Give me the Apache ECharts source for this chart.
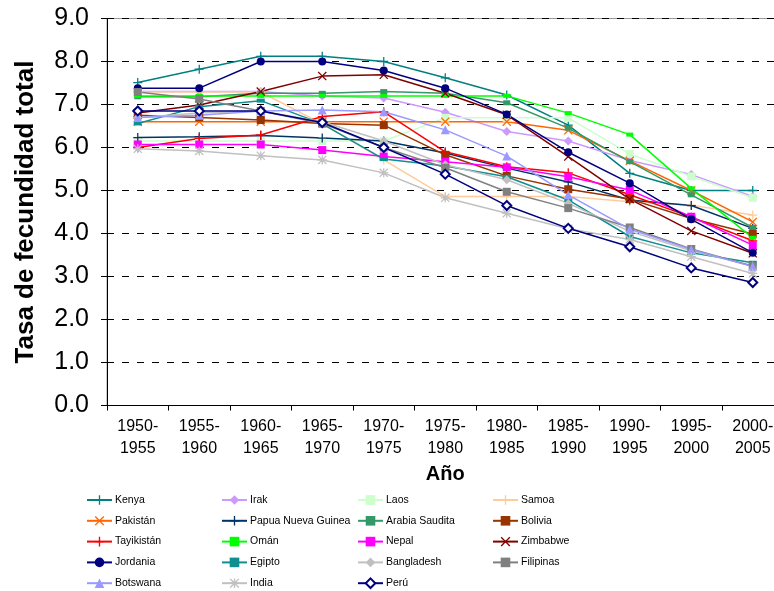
<!DOCTYPE html>
<html>
<head>
<meta charset="utf-8">
<script src="https://cdn.jsdelivr.net/npm/echarts@6/dist/echarts.min.js"></script>
<style>
  html, body { margin: 0; padding: 0; background: #fff; }
  #chart { width: 774px; height: 591px; }
</style>
</head>
<body>
<div id="chart"></div>
<script>
// Periods (five-year intervals)
const periods = ['1950-\n1955', '1955-\n1960', '1960-\n1965', '1965-\n1970', '1970-\n1975',
  '1975-\n1980', '1980-\n1985', '1985-\n1990', '1990-\n1995', '1995-\n2000', '2000-\n2005'];

// Total fertility rate per country
const kenya      = [7.51, 7.82, 8.12, 8.12, 8.00, 7.62, 7.22, 6.52, 5.40, 5.00, 5.00];
const irak       = [7.30, 7.30, 7.30, 7.20, 7.15, 6.82, 6.37, 6.15, 5.70, 5.37, 4.86];
const laos       = [6.15, 6.15, 6.15, 6.15, 6.15, 6.69, 6.69, 6.69, 5.85, 5.33, 4.83];
const samoa      = [7.29, 7.29, 7.29, 6.55, 5.71, 4.86, 4.86, 4.86, 4.74, 4.66, 4.43];
const pakistan   = [6.60, 6.60, 6.60, 6.60, 6.60, 6.60, 6.60, 6.40, 5.69, 5.00, 4.27];
const papua      = [6.23, 6.25, 6.28, 6.22, 6.15, 5.87, 5.52, 5.20, 4.78, 4.65, 4.12];
const arabia     = [7.18, 7.18, 7.26, 7.26, 7.30, 7.26, 7.04, 6.45, 5.67, 4.90, 4.14];
const bolivia    = [6.75, 6.70, 6.64, 6.56, 6.52, 5.83, 5.34, 5.03, 4.80, 4.35, 3.99];
const tayikistan = [6.00, 6.21, 6.29, 6.72, 6.83, 5.90, 5.55, 5.41, 4.90, 4.38, 3.83];
const oman       = [7.20, 7.20, 7.20, 7.20, 7.20, 7.20, 7.20, 6.80, 6.30, 5.05, 3.90];
const nepal      = [6.07, 6.07, 6.07, 5.94, 5.79, 5.67, 5.54, 5.32, 5.01, 4.39, 3.73];
const zimbabwe   = [6.80, 6.99, 7.30, 7.66, 7.69, 7.26, 6.76, 5.79, 4.80, 4.06, 3.54];
const jordania   = [7.38, 7.38, 8.00, 8.00, 7.79, 7.38, 6.77, 5.89, 5.17, 4.33, 3.55];
const egipto     = [6.56, 6.95, 7.09, 6.55, 5.73, 5.57, 5.32, 4.78, 3.93, 3.55, 3.32];
const bangladesh = [6.70, 6.80, 6.85, 6.60, 6.15, 5.60, 5.25, 4.70, 4.05, 3.60, 3.25];
const filipinas  = [7.29, 7.13, 6.85, 6.56, 6.00, 5.53, 4.97, 4.59, 4.14, 3.64, 3.24];
const botswana   = [6.70, 6.75, 6.85, 6.87, 6.83, 6.41, 5.80, 4.90, 4.10, 3.63, 3.23];
const india      = [5.97, 5.92, 5.81, 5.71, 5.41, 4.83, 4.47, 4.11, 3.86, 3.46, 3.07];
const peru       = [6.85, 6.85, 6.85, 6.58, 6.00, 5.38, 4.65, 4.12, 3.69, 3.20, 2.86];

// Y axis tick labels
const yTicks = ['0.0', '1.0', '2.0', '3.0', '4.0', '5.0', '6.0', '7.0', '8.0', '9.0'];

// Marker shapes
const PLUS  = 'path://M4.3,0H5.7V4.3H10V5.7H5.7V10H4.3V5.7H0V4.3H4.3Z';
const CROSS = 'path://M0,1L1,0L5,4L9,0L10,1L6,5L10,9L9,10L5,6L1,10L0,9L4,5Z';
const STAR  = 'path://M0,1L1,0L5,4L9,0L10,1L6,5L10,9L9,10L5,6L1,10L0,9L4,5Z M4.3,0H5.7V4.3H10V5.7H5.7V10H4.3V5.7H0V4.3H4.3Z';

// name, values, colour, symbol, size
const seriesDefs = [
  ['Kenya', kenya, '#008080', PLUS, 9],
  ['Irak', irak, '#CC99FF', 'diamond', 9],
  ['Laos', laos, '#CCFFCC', 'rect', 8],
  ['Samoa', samoa, '#FFCC99', PLUS, 9],
  ['Pakistán', pakistan, '#FF6600', CROSS, 9],
  ['Papua Nueva Guinea', papua, '#003366', PLUS, 9],
  ['Arabia Saudita', arabia, '#339966', 'rect', [7, 5]],
  ['Bolivia', bolivia, '#993300', 'rect', 8],
  ['Tayikistán', tayikistan, '#FF0000', PLUS, 9],
  ['Omán', oman, '#00FF00', 'rect', [7, 4]],
  ['Nepal', nepal, '#FF00FF', 'rect', 8],
  ['Zimbabwe', zimbabwe, '#800000', CROSS, 9],
  ['Jordania', jordania, '#000080', 'circle', 8],
  ['Egipto', egipto, '#0F8F8F', 'rect', [8, 4]],
  ['Bangladesh', bangladesh, '#C0C0C0', 'diamond', 9],
  ['Filipinas', filipinas, '#808080', 'rect', 8],
  ['Botswana', botswana, '#9999FF', 'triangle', 9],
  ['India', india, '#C0C0C0', STAR, 9],
  ['Perú', peru, '#000080', 'emptyDiamond', 9]
];

const series = seriesDefs.map(function (d) {
  const empty = d[3] === 'emptyDiamond';
  return {
    name: d[0],
    type: 'line',
    data: d[1],
    symbol: d[3],
    symbolSize: d[4],
    showSymbol: true,
    lineStyle: { color: d[2], width: 1.5 },
    itemStyle: empty
      ? { color: d[2], borderColor: d[2], borderWidth: 1.5 }
      : { color: d[2], borderWidth: 0 },
    emphasis: { disabled: true }
  };
});

// Legend laid out in four columns
const legendCols = [
  ['Kenya', 'Pakistán', 'Tayikistán', 'Jordania', 'Botswana'],
  ['Irak', 'Papua Nueva Guinea', 'Omán', 'Egipto', 'India'],
  ['Laos', 'Arabia Saudita', 'Nepal', 'Bangladesh', 'Perú'],
  ['Samoa', 'Bolivia', 'Zimbabwe', 'Filipinas']
];
const legendLeft = [86, 221, 357, 492];

const legends = legendCols.map(function (names, i) {
  return {
    orient: 'vertical',
    left: legendLeft[i],
    top: 494,
    width: 130,
    height: 130,
    padding: 0,
    data: names,
    itemWidth: 25,
    itemHeight: 12,
    itemGap: 8.8,
    selectedMode: false,
    textStyle: { fontFamily: 'Liberation Sans', fontSize: 10.5, color: '#000', lineHeight: 12, padding: [0, 0, 0, -2] }
  };
});

const chart = echarts.init(document.getElementById('chart'), null, { renderer: 'canvas' });
chart.setOption({
  animation: false,
  backgroundColor: '#fff',
  textStyle: { fontFamily: 'Liberation Sans' },
  grid: {
    left: 107, top: 18.5, width: 676.5, height: 387,
    containLabel: false, outerBoundsMode: 'none',
    show: true, borderColor: '#999', borderWidth: 1, backgroundColor: 'transparent'
  },
  legend: legends,
  xAxis: {
    type: 'category',
    data: periods,
    boundaryGap: true,
    name: 'Año',
    nameLocation: 'middle',
    nameGap: 51,
    nameTextStyle: { fontFamily: 'Liberation Sans', fontSize: 20, fontWeight: 'bold', color: '#000' },
    axisLine: { lineStyle: { color: '#000', width: 1 } },
    axisTick: { show: true, length: 5, lineStyle: { color: '#000' } },
    axisLabel: { interval: 0, fontFamily: 'Liberation Sans', fontSize: 16, lineHeight: 22, color: '#000', margin: 10 },
    splitLine: { show: false }
  },
  yAxis: {
    type: 'value',
    min: 0,
    max: 9,
    interval: 1,
    name: 'Tasa de fecundidad total',
    nameLocation: 'middle',
    nameGap: 68,
    nameTextStyle: { fontFamily: 'Liberation Sans', fontSize: 26, fontWeight: 'bold', color: '#000' },
    axisLine: { show: true, lineStyle: { color: '#000', width: 1 } },
    axisTick: { show: true, length: 6, lineStyle: { color: '#000' } },
    axisLabel: {
      fontFamily: 'Liberation Sans', fontSize: 25, color: '#000', margin: 18,
      formatter: function (v) { return yTicks[Math.round(v)]; }
    },
    splitLine: {
      show: true,
      lineStyle: { color: '#000', type: [7, 8], width: 1 }
    }
  },
  series: series
});
</script>
</body>
</html>
